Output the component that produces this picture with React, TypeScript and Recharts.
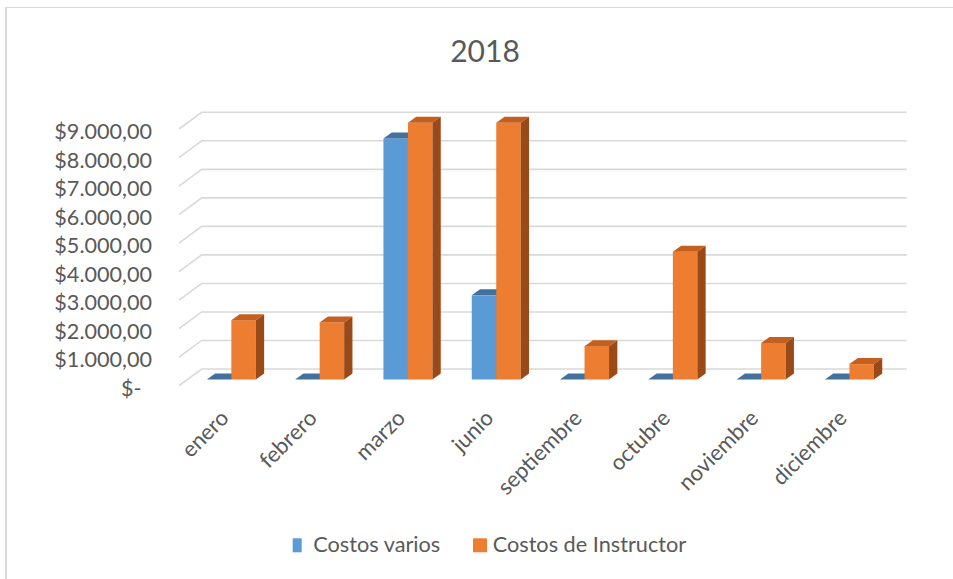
import React from 'react';
import { BarChart, Bar, XAxis, YAxis, CartesianGrid, Legend } from 'recharts';

const months = ['enero', 'febrero', 'marzo', 'junio', 'septiembre', 'octubre', 'noviembre', 'diciembre'];
const costosVarios = [0, 0, 8450, 2950, 0, 0, 0, 0];
const costosInstructor = [2080, 2000, 9000, 9000, 1170, 4480, 1280, 540];
const yTicks = [0, 1000, 2000, 3000, 4000, 5000, 6000, 7000, 8000, 9000];

const data = months.map((m, i) => ({ month: m, varios: costosVarios[i], instructor: costosInstructor[i] }));

const FONT = 'Lato, "Open Sans", sans-serif';
const TEXT = '#595959';
const GRID = '#d9d9d9';

// 3d look: depth of the bars and of the floor/back wall
const BAR_DX = 8.3;
const BAR_DY = 6;

const faces: Record<string, { front: string; top: string; side: string }> = {
  varios: { front: '#5B9BD5', top: '#41719C', side: '#3A6790' },
  instructor: { front: '#ED7D31', top: '#C55F1E', side: '#9A4A19' },
};

function fmtMoney(v: number) {
  if (v === 0) return '$-';
  const th = Math.floor(v / 1000);
  const rest = String(v % 1000).padStart(3, '0');
  return `$${th}.${rest},00`;
}

function makeBox(key: string) {
  return (props: any) => {
    const { x, y, width, height } = props;
    const c = faces[key];
    const h = Math.max(0, height || 0);
    const top = y;
    const pts = (arr: number[][]) => arr.map((p) => p.join(',')).join(' ');
    return (
      <g>
        {h > 0 && <rect x={x} y={top} width={width} height={h} fill={c.front} />}
        <polygon
          points={pts([[x, top], [x + width, top], [x + width + BAR_DX, top - BAR_DY], [x + BAR_DX, top - BAR_DY]])}
          fill={c.top}
        />
        {h > 0 && (
          <polygon
            points={pts([[x + width, top], [x + width + BAR_DX, top - BAR_DY], [x + width + BAR_DX, top + h - BAR_DY], [x + width, top + h]])}
            fill={c.side}
          />
        )}
      </g>
    );
  };
}

const gridLine = (props: any) => {
  const { x1, x2, y1, key } = props;
  const back = y1 - 10.5;
  return (
    <path
      key={key}
      d={`M${x1 - 7.85},${back + 16.7} L${x1 + 14.85},${back} L${x2 + 13.45},${back}`}
      stroke={GRID}
      strokeWidth={1.6}
      fill="none"
    />
  );
};

const YTick = (props: any) => {
  const { y, payload } = props;
  const v = payload.value as number;
  return (
    <text x={v === 0 ? 141.5 : 152} y={y + 16.5} textAnchor="end" fill={TEXT} fontSize={21.6} fontFamily={FONT}>
      {fmtMoney(v)}
    </text>
  );
};

const XTick = (props: any) => {
  const { x, y, payload } = props;
  const px = x - 1;
  const py = y + 40;
  return (
    <text
      x={px}
      y={py}
      transform={`rotate(-45, ${px}, ${py})`}
      textAnchor="end"
      fill={TEXT}
      fontSize={22}
      fontFamily={FONT}
    >
      {payload.value}
    </text>
  );
};

const LegendBox = () => (
  <svg width={953} height={30} style={{ display: 'block' }}>
    <rect x={292.7} y={6.3} width={9} height={14} fill={faces.varios.front} />
    <text x={313.3} y={20.3} fill={TEXT} fontSize={21.7} fontFamily={FONT}>
      Costos varios
    </text>
    <rect x={473} y={6.3} width={14} height={14} fill={faces.instructor.front} />
    <text x={492.7} y={20.3} fill={TEXT} fontSize={21.7} fontFamily={FONT}>
      Costos de Instructor
    </text>
  </svg>
);

export default function App() {
  return (
    <div style={{ position: 'absolute', left: 0, top: 0, width: 953, height: 579, overflow: 'hidden', background: '#fff' }}>
      <div
        style={{
          position: 'absolute',
          left: 5,
          top: 7,
          width: 1000,
          height: 700,
          borderLeft: `2px solid ${GRID}`,
          borderTop: `1.5px solid ${GRID}`,
        }}
      />
      <svg width={953} height={80} style={{ position: 'absolute', left: 0, top: 0 }}>
        <text x={485} y={62.3} textAnchor="middle" fill={TEXT} fontSize={30} fontFamily={FONT}>
          2018
        </text>
      </svg>
      <div style={{ position: 'absolute', left: 0, top: 0 }}>
        <BarChart
          width={953}
          height={579}
          data={data}
          margin={{ top: 122.8, right: 59.75, bottom: 0, left: 0 }}
          barGap={0}
          barSize={24.5}
        >
          <CartesianGrid vertical={false} horizontal={gridLine} />
          <XAxis
            dataKey="month"
            height={169.5}
            axisLine={false}
            tickLine={false}
            tickSize={0}
            tickMargin={0}
            interval={0}
            tick={<XTick />}
          />
          <YAxis
            width={186.85}
            domain={[0, 9000]}
            ticks={yTicks}
            axisLine={false}
            tickLine={false}
            tick={<YTick />}
            interval={0}
          />
          <Legend
            verticalAlign="bottom"
            content={<LegendBox />}
            wrapperStyle={{ position: 'absolute', left: 0, top: 532, width: 953, height: 30 }}
          />
          <Bar dataKey="varios" name="Costos varios" fill={faces.varios.front} shape={makeBox('varios')} isAnimationActive={false} />
          <Bar dataKey="instructor" name="Costos de Instructor" fill={faces.instructor.front} shape={makeBox('instructor')} isAnimationActive={false} />
        </BarChart>
      </div>
    </div>
  );
}
